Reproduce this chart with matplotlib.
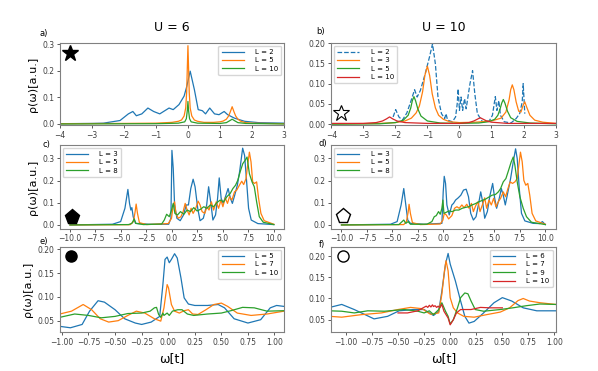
import numpy as np
import matplotlib.pyplot as plt

#%% data

# a) U = 6
a_L2_x = [-4, -3, -2.64, -2.12, -1.86, -1.72, -1.61, -1.44, -1.25, -1.07, -0.88, -0.59, -0.46, -0.28, -0.12,
          -0.04, 0.07, 0.2, 0.32, 0.45, 0.55, 0.68, 0.83, 0.97, 1.13, 1.24, 1.45, 1.77, 2.2, 3.0]
a_L2_y = [0.001, 0.002, 0.003, 0.013, 0.038, 0.047, 0.031, 0.038, 0.06, 0.047, 0.038, 0.06, 0.054, 0.073, 0.105,
          0.14, 0.199, 0.13, 0.054, 0.05, 0.038, 0.06, 0.038, 0.035, 0.047, 0.035, 0.022, 0.01, 0.005, 0.003]
a_L5_x = [-4, -2, -1, -0.5, -0.3, -0.2, -0.12, -0.07, -0.04, -0.02, 0.0, 0.02, 0.04, 0.07, 0.12, 0.2, 0.3, 0.5,
          0.8, 1.0, 1.1, 1.2, 1.27, 1.32, 1.38, 1.44, 1.49, 1.56, 1.65, 1.8, 2.0, 2.5, 3.0]
a_L5_y = [0.001, 0.002, 0.003, 0.006, 0.01, 0.015, 0.03, 0.06, 0.12, 0.21, 0.295, 0.21, 0.12, 0.06, 0.03, 0.015,
          0.01, 0.006, 0.006, 0.008, 0.011, 0.018, 0.03, 0.045, 0.065, 0.045, 0.03, 0.018, 0.01, 0.005, 0.003,
          0.002, 0.001]
a_L10_x = [-4, -1, -0.3, -0.1, -0.05, -0.02, 0.0, 0.02, 0.05, 0.1, 0.3, 1.0, 1.2, 1.3, 1.38, 1.46, 1.56, 1.8, 3.0]
a_L10_y = [0.0, 0.001, 0.003, 0.008, 0.02, 0.05, 0.085, 0.05, 0.02, 0.008, 0.003, 0.002, 0.005, 0.012, 0.018,
           0.012, 0.005, 0.002, 0.0]

# b) U = 10
b_L2_x = [-2.07, -1.99, -1.89, -1.78, -1.64, -1.51, -1.40, -1.32, -1.22, -1.07, -0.94, -0.84, -0.75, -0.67,
          -0.56, -0.46, -0.42, -0.37, -0.22, -0.12, -0.07, -0.04, 0.0, 0.05, 0.10, 0.16, 0.21, 0.28, 0.33, 0.41,
          0.48, 0.56, 0.72, 0.93, 1.03, 1.12, 1.17, 1.23, 1.28, 1.4, 1.61, 1.77, 1.88, 1.96, 1.99, 2.04]
b_L2_y = [0.018, 0.036, 0.018, 0.01, 0.028, 0.058, 0.085, 0.067, 0.083, 0.124, 0.164, 0.198, 0.148, 0.067,
          0.026, 0.014, 0.026, 0.01, 0.006, 0.018, 0.05, 0.087, 0.034, 0.067, 0.034, 0.063, 0.038, 0.075, 0.1,
          0.132, 0.075, 0.026, 0.006, 0.008, 0.022, 0.068, 0.034, 0.058, 0.022, 0.006, 0.003, 0.014, 0.026,
          0.055, 0.1, 0.026]
b_L3_x = [-4, -2.5, -2, -1.7, -1.5, -1.35, -1.25, -1.15, -1.08, -1.0, -0.93, -0.85, -0.75, -0.65, -0.5, -0.3,
          0, 0.5, 1.0, 1.3, 1.45, 1.55, 1.6, 1.65, 1.7, 1.77, 1.85, 1.92, 1.98, 2.04, 2.1, 2.2, 2.35, 2.6, 3]
b_L3_y = [0.001, 0.002, 0.004, 0.008, 0.015, 0.028, 0.045, 0.08, 0.12, 0.143, 0.12, 0.075, 0.04, 0.022, 0.012,
          0.006, 0.004, 0.005, 0.008, 0.015, 0.03, 0.06, 0.085, 0.097, 0.085, 0.055, 0.032, 0.03, 0.045, 0.055,
          0.042, 0.022, 0.01, 0.005, 0.002]
b_L5_x = [-4, -2.5, -2, -1.75, -1.6, -1.52, -1.47, -1.42, -1.37, -1.3, -1.2, -1.0, -0.6, 0, 0.6, 0.9, 1.1, 1.2,
          1.27, 1.32, 1.37, 1.42, 1.5, 1.6, 1.8, 2.2, 3]
b_L5_y = [0.0, 0.001, 0.004, 0.01, 0.022, 0.04, 0.058, 0.068, 0.058, 0.038, 0.02, 0.008, 0.003, 0.002, 0.003,
          0.006, 0.012, 0.022, 0.038, 0.052, 0.061, 0.052, 0.032, 0.016, 0.007, 0.003, 0.001]
b_L10_x = [-4, -3, -2.6, -2.4, -2.28, -2.18, -2.08, -1.95, -1.7, -1, 0, 0.3, 0.45, 0.55, 0.65, 0.75, 0.85, 1.0,
           1.5, 3]
b_L10_y = [0.002, 0.002, 0.004, 0.008, 0.013, 0.018, 0.013, 0.008, 0.004, 0.002, 0.002, 0.004, 0.008, 0.012,
           0.016, 0.012, 0.008, 0.005, 0.002, 0.002]

# c) U = 6, wide window
c_L3_x = [-10, -5.84, -5.03, -4.61, -4.32, -4.16, -4.03, -3.93, -3.8, -3.57, -2.27, -0.32, -0.1, 0.0, 0.13, 0.26,
          0.49, 0.81, 1.14, 1.4, 1.62, 1.85, 2.08, 2.27, 2.53, 2.76, 3.08, 3.41, 3.6, 3.8, 4.02, 4.28, 4.48, 4.64,
          4.83, 5.03, 5.25, 5.51, 5.74, 5.93, 6.16, 6.42, 6.64, 6.94, 7.13, 7.33, 7.52, 7.78, 8.43, 10]
c_L3_y = [0.0, 0.003, 0.015, 0.075, 0.16, 0.097, 0.067, 0.078, 0.037, 0.007, 0.003, 0.003, 0.03, 0.336, 0.254,
          0.09, 0.03, 0.019, 0.045, 0.09, 0.09, 0.164, 0.206, 0.172, 0.075, 0.019, 0.03, 0.09, 0.172, 0.105, 0.022,
          0.045, 0.12, 0.212, 0.12, 0.097, 0.127, 0.164, 0.12, 0.097, 0.134, 0.18, 0.24, 0.346, 0.313, 0.194,
          0.075, 0.022, 0.006, 0.0015]
c_L5_x = [-10, -4.1, -3.77, -3.61, -3.51, -3.38, -3.19, -2.47, -0.36, -0.04, 0.13, 0.26, 0.39, 0.62, 0.88, 1.1,
          1.3, 1.49, 1.69, 1.88, 2.08, 2.34, 2.57, 2.76, 2.96, 3.22, 3.44, 3.64, 3.87, 4.09, 4.35, 4.58, 4.81, 5.0,
          5.23, 5.45, 5.65, 5.88, 6.14, 6.36, 6.62, 6.85, 7.04, 7.27, 7.43, 7.6, 7.76, 7.92, 8.11, 8.31, 8.5, 8.73,
          9.05, 10]
c_L5_y = [0.0, 0.001, 0.015, 0.06, 0.094, 0.052, 0.01, 0.0015, 0.006, 0.03, 0.09, 0.104, 0.052, 0.03, 0.037,
          0.06, 0.097, 0.067, 0.045, 0.075, 0.052, 0.075, 0.107, 0.09, 0.06, 0.052, 0.082, 0.067, 0.104, 0.067,
          0.104, 0.075, 0.112, 0.082, 0.122, 0.097, 0.127, 0.112, 0.149, 0.157, 0.179, 0.197, 0.182, 0.209, 0.269,
          0.328, 0.284, 0.194, 0.187, 0.194, 0.12, 0.052, 0.019, 0.003]
c_L8_x = [-10, -4.26, -3.93, -3.7, -3.54, -2.79, -1.01, -0.75, -0.52, -0.26, -0.04, 0.13, 0.29, 0.55, 0.84, 1.17,
          1.49, 1.82, 2.14, 2.47, 2.79, 3.12, 3.44, 3.77, 4.09, 4.42, 4.74, 5.07, 5.39, 5.72, 5.98, 6.24, 6.46,
          6.69, 6.95, 7.18, 7.37, 7.6, 7.86, 8.08, 8.31, 8.57, 8.96, 10]
c_L8_y = [0.0, 0.0015, 0.007, 0.027, 0.007, 0.0015, 0.004, 0.022, 0.048, 0.037, 0.067, 0.097, 0.052, 0.045,
          0.06, 0.048, 0.067, 0.06, 0.078, 0.063, 0.07, 0.082, 0.075, 0.09, 0.082, 0.101, 0.112, 0.104, 0.127,
          0.142, 0.164, 0.179, 0.201, 0.239, 0.276, 0.291, 0.306, 0.231, 0.194, 0.172, 0.104, 0.037, 0.012, 0.0015]

# d) U = 10, wide window
d_L3_x = [-10, -5.19, -4.54, -4.15, -3.89, -3.69, -3.5, -3.24, -1.94, -0.15, -0.02, 0.08, 0.21, 0.34, 0.57, 0.83,
          0.99, 1.19, 1.45, 1.71, 1.97, 2.23, 2.46, 2.68, 2.94, 3.2, 3.43, 3.66, 3.85, 4.05, 4.31, 4.57, 4.83,
          5.03, 5.22, 5.48, 5.68, 5.87, 6.07, 6.33, 6.59, 6.85, 7.08, 7.24, 7.44, 7.66, 7.99, 8.8, 9.45, 9.71,
          9.94, 10]
d_L3_y = [0.0, 0.003, 0.015, 0.09, 0.164, 0.09, 0.022, 0.007, 0.003, 0.007, 0.149, 0.219, 0.187, 0.09, 0.045,
          0.09, 0.097, 0.112, 0.122, 0.134, 0.157, 0.161, 0.127, 0.052, 0.022, 0.037, 0.09, 0.149, 0.104, 0.03,
          0.06, 0.134, 0.187, 0.12, 0.075, 0.12, 0.164, 0.134, 0.09, 0.149, 0.209, 0.284, 0.343, 0.299, 0.164,
          0.052, 0.018, 0.007, 0.006, 0.015, 0.004, 0.0015]
d_L5_x = [-10, -3.89, -3.63, -3.46, -3.37, -3.24, -3.04, -2.26, -0.31, -0.05, 0.08, 0.28, 0.51, 0.83, 1.09, 1.32,
          1.55, 1.81, 2.03, 2.29, 2.52, 2.75, 2.94, 3.17, 3.4, 3.59, 3.82, 4.05, 4.24, 4.47, 4.7, 4.93, 5.15, 5.38,
          5.61, 5.87, 6.1, 6.33, 6.55, 6.78, 7.01, 7.24, 7.4, 7.56, 7.73, 7.89, 8.08, 8.28, 8.47, 8.7, 9.06, 10]
d_L5_y = [0.0, 0.0015, 0.015, 0.057, 0.093, 0.052, 0.01, 0.0015, 0.004, 0.022, 0.052, 0.045, 0.027, 0.042,
          0.075, 0.082, 0.075, 0.09, 0.078, 0.093, 0.075, 0.097, 0.06, 0.087, 0.104, 0.06, 0.09, 0.122, 0.075,
          0.112, 0.09, 0.12, 0.082, 0.104, 0.12, 0.149, 0.127, 0.164, 0.194, 0.187, 0.194, 0.209, 0.269, 0.328,
          0.284, 0.201, 0.179, 0.187, 0.134, 0.052, 0.018, 0.003]
d_L8_x = [-10, -4.37, -4.05, -3.89, -3.69, -3.46, -3.24, -1.62, -1.13, -0.9, -0.7, -0.48, -0.31, -0.15, -0.05,
          0.05, 0.28, 0.54, 0.86, 1.19, 1.51, 1.84, 2.16, 2.49, 2.81, 3.14, 3.46, 3.79, 4.12, 4.44, 4.77, 5.1,
          5.39, 5.61, 5.87, 6.13, 6.39, 6.65, 6.85, 7.01, 7.24, 7.5, 7.83, 8.15, 8.64, 10]
d_L8_y = [0.0, 0.0015, 0.015, 0.022, 0.007, 0.015, 0.003, 0.003, 0.015, 0.037, 0.042, 0.06, 0.048, 0.075, 0.112,
          0.052, 0.057, 0.063, 0.06, 0.067, 0.067, 0.075, 0.079, 0.082, 0.09, 0.096, 0.104, 0.11, 0.116, 0.125,
          0.134, 0.137, 0.149, 0.164, 0.194, 0.209, 0.246, 0.284, 0.306, 0.269, 0.194, 0.127, 0.075, 0.037,
          0.012, 0.0015]

# e) U = 6, zoom near zero
e_L5_x = [-1.02, -0.92, -0.81, -0.74, -0.66, -0.6, -0.5, -0.41, -0.31, -0.25, -0.16, -0.08, -0.05, -0.03, -0.01,
          0.01, 0.03, 0.06, 0.085, 0.12, 0.15, 0.19, 0.25, 0.37, 0.47, 0.53, 0.62, 0.75, 0.87, 0.96, 1.02, 1.09]
e_L5_y = [0.038, 0.035, 0.042, 0.07, 0.092, 0.089, 0.073, 0.054, 0.045, 0.042, 0.047, 0.059, 0.126, 0.179,
          0.184, 0.172, 0.179, 0.191, 0.182, 0.14, 0.098, 0.085, 0.082, 0.082, 0.084, 0.077, 0.054, 0.045, 0.052,
          0.077, 0.082, 0.08]
e_L7_x = [-1.02, -0.91, -0.8, -0.72, -0.64, -0.56, -0.47, -0.38, -0.3, -0.22, -0.13, -0.07, -0.04, -0.01, 0.003,
          0.03, 0.06, 0.105, 0.15, 0.19, 0.23, 0.28, 0.355, 0.43, 0.5, 0.56, 0.65, 0.78, 0.93, 1.09]
e_L7_y = [0.064, 0.07, 0.084, 0.073, 0.054, 0.047, 0.05, 0.061, 0.07, 0.066, 0.054, 0.049, 0.077, 0.126, 0.119,
          0.084, 0.07, 0.066, 0.071, 0.073, 0.064, 0.063, 0.073, 0.084, 0.087, 0.08, 0.066, 0.061, 0.064, 0.07]
e_L10_x = [-1.02, -0.88, -0.75, -0.63, -0.5, -0.38, -0.25, -0.17, -0.13, -0.11, -0.09, -0.07, -0.05, -0.04,
           -0.01, 0.01, 0.04, 0.09, 0.13, 0.18, 0.24, 0.37, 0.5, 0.59, 0.7, 0.81, 0.93, 1.09]
e_L10_y = [0.057, 0.064, 0.061, 0.056, 0.059, 0.065, 0.066, 0.07, 0.077, 0.078, 0.063, 0.057, 0.066, 0.061,
           0.066, 0.061, 0.07, 0.073, 0.073, 0.064, 0.061, 0.064, 0.066, 0.071, 0.078, 0.077, 0.07, 0.071]

# f) U = 10, zoom near zero
f_L6_x = [-1.155, -1.04, -0.92, -0.73, -0.6, -0.49, -0.35, -0.25, -0.2, -0.16, -0.11, -0.08, -0.045, -0.02, 0.0,
          0.05, 0.1, 0.14, 0.18, 0.23, 0.32, 0.42, 0.5, 0.59, 0.7, 0.83, 1.01]
f_L6_y = [0.079, 0.086, 0.074, 0.052, 0.058, 0.071, 0.074, 0.074, 0.066, 0.06, 0.07, 0.117, 0.181, 0.206, 0.181,
          0.141, 0.094, 0.058, 0.042, 0.046, 0.066, 0.09, 0.102, 0.094, 0.078, 0.071, 0.071]
f_L7_x = [-1.155, -1.04, -0.85, -0.66, -0.5, -0.38, -0.27, -0.19, -0.11, -0.08, -0.055, -0.04, -0.02, 0.0, 0.03,
          0.07, 0.13, 0.23, 0.35, 0.48, 0.57, 0.65, 0.7, 0.76, 0.86, 1.01]
f_L7_y = [0.058, 0.056, 0.062, 0.066, 0.074, 0.079, 0.076, 0.063, 0.066, 0.11, 0.165, 0.189, 0.165, 0.102,
          0.078, 0.066, 0.058, 0.056, 0.062, 0.068, 0.078, 0.095, 0.1, 0.094, 0.09, 0.086]
f_L9_x = [-1.155, -1.04, -0.92, -0.79, -0.63, -0.44, -0.31, -0.25, -0.2, -0.16, -0.11, -0.08, -0.045, -0.02, 0.0,
          0.03, 0.07, 0.1, 0.14, 0.17, 0.2, 0.24, 0.32, 0.48, 0.6, 0.73, 0.86, 1.01]
f_L9_y = [0.071, 0.07, 0.066, 0.071, 0.07, 0.074, 0.07, 0.066, 0.071, 0.062, 0.074, 0.09, 0.07, 0.058, 0.04,
          0.05, 0.078, 0.102, 0.113, 0.111, 0.094, 0.074, 0.07, 0.074, 0.078, 0.083, 0.087, 0.086]
f_L10_x = [-0.5, -0.41, -0.31, -0.26, -0.23, -0.215, -0.2, -0.185, -0.17, -0.16, -0.145, -0.13, -0.115, -0.1,
           -0.08, -0.06, -0.04, -0.02, 0.0, 0.03, 0.06, 0.1, 0.2, 0.29, 0.38, 0.5]
f_L10_y = [0.066, 0.066, 0.071, 0.078, 0.082, 0.079, 0.084, 0.08, 0.085, 0.081, 0.083, 0.079, 0.082, 0.078,
           0.086, 0.07, 0.062, 0.054, 0.038, 0.05, 0.066, 0.074, 0.074, 0.079, 0.078, 0.078]

#%% figure
fig = plt.figure(figsize=(5.98, 3.71), dpi=100)

W = 0.375
lefts = [0.100, 0.554]
rows = [(0.663, 0.221), (0.383, 0.226), (0.105, 0.229)]

axes = {}
names = [['a', 'b'], ['c', 'd'], ['e', 'f']]
for r, (bot, h) in enumerate(rows):
    for c in range(2):
        ax = fig.add_axes([lefts[c], bot, W, h])
        for s in ax.spines.values():
            s.set_color('0.5')
            s.set_linewidth(0.8)
        ax.tick_params(labelsize=5.5, length=2.5, width=0.6, pad=1.5, colors='0.25')
        axes[names[r][c]] = ax

lw = 0.9
ax = axes['a']
ax.plot(a_L2_x, a_L2_y, color='C0', lw=lw, label='L = 2')
ax.plot(a_L5_x, a_L5_y, color='C1', lw=lw, label='L = 5')
ax.plot(a_L10_x, a_L10_y, color='C2', lw=lw, label='L = 10')
ax.set_xlim(-4, 3)
ax.set_ylim(-0.004, 0.305)
ax.set_yticks([0.0, 0.1, 0.2, 0.3])

ax = axes['b']
ax.plot(b_L2_x, b_L2_y, color='C0', lw=lw, ls='--', label='L = 2')
ax.plot(b_L3_x, b_L3_y, color='C1', lw=lw, label='L = 3')
ax.plot(b_L5_x, b_L5_y, color='C2', lw=lw, label='L = 5')
ax.plot(b_L10_x, b_L10_y, color='C3', lw=lw, label='L = 10')
ax.set_xlim(-4, 3)
ax.set_ylim(-0.002, 0.2)
ax.set_yticks([0.0, 0.05, 0.1, 0.15, 0.2])

ax = axes['c']
ax.plot(c_L3_x, c_L3_y, color='C0', lw=lw, label='L = 3')
ax.plot(c_L5_x, c_L5_y, color='C1', lw=lw, label='L = 5')
ax.plot(c_L8_x, c_L8_y, color='C2', lw=lw, label='L = 8')

ax = axes['d']
ax.plot(d_L3_x, d_L3_y, color='C0', lw=lw, label='L = 3')
ax.plot(d_L5_x, d_L5_y, color='C1', lw=lw, label='L = 5')
ax.plot(d_L8_x, d_L8_y, color='C2', lw=lw, label='L = 8')

for k in ['c', 'd']:
    axes[k].set_xlim(-11, 11)
    axes[k].set_ylim(-0.018, 0.36)
    axes[k].set_xticks([-10, -7.5, -5, -2.5, 0, 2.5, 5, 7.5, 10])
    axes[k].set_yticks([0.0, 0.1, 0.2, 0.3])

ax = axes['e']
ax.plot(e_L5_x, e_L5_y, color='C0', lw=lw, label='L = 5')
ax.plot(e_L7_x, e_L7_y, color='C1', lw=lw, label='L = 7')
ax.plot(e_L10_x, e_L10_y, color='C2', lw=lw, label='L = 10')
ax.set_xlim(-1.02, 1.09)
ax.set_ylim(0.026, 0.205)
ax.set_xticks(np.arange(-1.0, 1.01, 0.25))
ax.set_yticks([0.05, 0.10, 0.15, 0.20])

ax = axes['f']
ax.plot(f_L6_x, f_L6_y, color='C0', lw=lw, label='L = 6')
ax.plot(f_L7_x, f_L7_y, color='C1', lw=lw, label='L = 7')
ax.plot(f_L9_x, f_L9_y, color='C2', lw=lw, label='L = 9')
ax.plot(f_L10_x, f_L10_y, color='C3', lw=lw, label='L = 10')
ax.set_xlim(-1.14, 1.01)
ax.set_ylim(0.021, 0.221)
ax.set_xticks(np.arange(-1.0, 1.01, 0.25))
ax.set_yticks([0.05, 0.10, 0.15, 0.20])

# legends
leg_kw = dict(fontsize=5, handlelength=3.2, handletextpad=1.6, borderpad=0.45, labelspacing=0.35,
              borderaxespad=0.4, edgecolor='0.8')
axes['a'].legend(loc='upper right', **leg_kw)
axes['b'].legend(loc='upper left', **leg_kw)
axes['c'].legend(loc='upper left', **leg_kw)
axes['d'].legend(loc='upper left', **leg_kw)
axes['e'].legend(loc='upper right', **leg_kw)
axes['f'].legend(loc='upper right', **leg_kw)

# symbols
axes['a'].plot(0.045, 0.88, marker='*', ms=12, color='k', transform=axes['a'].transAxes)
axes['b'].plot(0.045, 0.15, marker='*', ms=12, mfc='none', mec='k', mew=0.8, transform=axes['b'].transAxes)
axes['c'].plot(0.053, 0.14, marker='p', ms=11, color='k', transform=axes['c'].transAxes)
axes['d'].plot(0.05, 0.15, marker='p', ms=11, mfc='none', mec='k', mew=1.0, transform=axes['d'].transAxes)
axes['e'].plot(0.049, 0.9, marker='o', ms=8, color='k', transform=axes['e'].transAxes)
axes['f'].plot(0.05, 0.9, marker='o', ms=8, mfc='none', mec='k', mew=1.0, transform=axes['f'].transAxes)

# panel letters
letters = {'a': (-0.07, 1.12), 'b': (-0.05, 1.14), 'c': (-0.06, 1.01),
           'd': (-0.04, 1.02), 'e': (-0.07, 1.06), 'f': (-0.04, 1.03)}
for k, (x, y) in letters.items():
    axes[k].text(x, y, k + ')', transform=axes[k].transAxes, fontsize=6, ha='center', va='center')

axes['a'].set_title('U = 6', fontsize=9, pad=9)
axes['b'].set_title('U = 10', fontsize=9, pad=9)

for k in ['a', 'c', 'e']:
    axes[k].set_ylabel('ρ(ω)[a.u.]', fontsize=8, labelpad=3)
for k in ['e', 'f']:
    axes[k].set_xlabel('ω[t]', fontsize=9, labelpad=4)

fig.savefig('out.png', dpi=100)
